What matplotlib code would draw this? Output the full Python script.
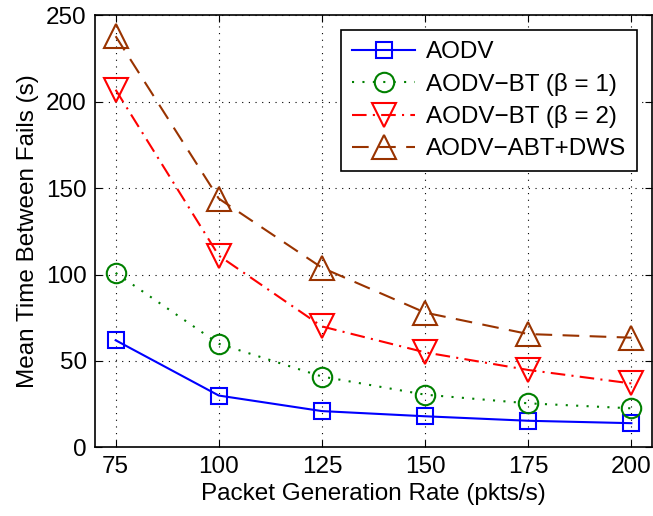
import numpy as np
import matplotlib.pyplot as plt

plt.rcParams['font.family'] = ['Liberation Sans', 'DejaVu Sans']

rate = [75, 100, 125, 150, 175, 200]
aodv = [62, 30, 21, 18, 15.4, 14]
aodv_bt1 = [101, 60, 41, 30.5, 25.5, 22.6]
aodv_bt2 = [207, 111, 70, 55, 44.8, 37]
aodv_abt = [238, 144, 104, 78, 65.6, 63.5]

fig = plt.figure(figsize=(6.53, 5.16), dpi=100)
ax = fig.add_axes([0.1455, 0.133, 0.853, 0.837])

brown = '#993300'
ax.plot(rate, aodv, color='b', lw=1.5, marker='s', ms=12, mfc='none', mew=1.5, label='AODV')
ax.plot(rate, aodv_bt1, color='#008000', lw=1.5, ls=(0, (1, 4)), marker='o', ms=14, mfc='none', mew=1.5,
        label='AODV\u2212BT (\u03b2 = 1)')
ax.plot(rate, aodv_bt2, color='r', lw=1.5, ls=(0, (7, 3, 1, 3)), marker='v', ms=17, mfc='none', mew=1.5,
        label='AODV\u2212BT (\u03b2 = 2)')
ax.plot(rate, aodv_abt, color=brown, lw=1.5, ls=(0, (8, 5)), marker='^', ms=17, mfc='none', mew=1.5,
        label='AODV\u2212ABT+DWS')

ax.set_xlim(70, 205)
ax.set_ylim(0, 250)
ax.set_xticks(rate)
ax.set_yticks([0, 50, 100, 150, 200, 250])
ax.grid(True, color='k', ls=(0, (1, 5)), lw=0.8)
ax.tick_params(direction='in', top=True, right=True, labelsize=17.5, length=5, pad=6)
for s in ax.spines.values():
    s.set_linewidth(1.2)

ax.set_xlabel('Packet Generation Rate (pkts/s)', fontsize=17.5, labelpad=4)
ax.set_ylabel('Mean Time Between Fails (s)', fontsize=17.5, labelpad=5)

leg = ax.legend(loc='upper right', fontsize=17.5, fancybox=False, edgecolor='k', framealpha=1,
                handlelength=2.6, handletextpad=0.45, borderaxespad=0.6, labelspacing=0.4,
                borderpad=0.45)
leg.get_frame().set_linewidth(1.2)

fig.savefig('out.png', dpi=100)
